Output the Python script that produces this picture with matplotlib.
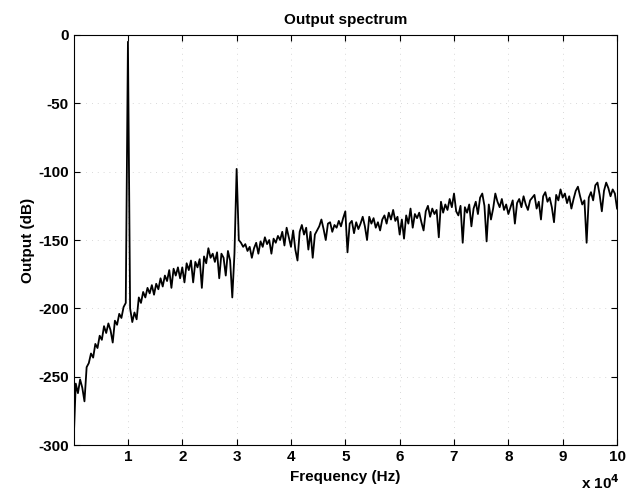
import numpy as np
import matplotlib
matplotlib.use("Agg")
import matplotlib.pyplot as plt

plt.rcParams['font.family'] = ['Liberation Sans', 'DejaVu Sans']
plt.rcParams['axes.unicode_minus'] = False

# output spectrum in dB, one row per 1e4 Hz (step 400 Hz), last value at 1e5 Hz
row0 = [-298, -255, -262, -252, -258, -268, -243, -240, -233, -236, -226, -229, -220,
        -223, -213, -218, -211, -216, -225, -209, -212, -204, -207, -199, -196]
row1 = [-5, -200, -210, -203, -208, -192, -196, -188, -192, -185, -189, -183, -190,
        -182, -186, -178, -184, -176, -180, -172, -185, -171, -176, -170, -178]
row2 = [-170, -181, -167, -172, -165, -181, -166, -170, -164, -185, -162, -167, -156,
        -163, -160, -166, -159, -178, -160, -163, -176, -158, -165, -192, -160]
row3 = [-98, -150, -152, -155, -153, -158, -155, -163, -156, -152, -160, -151, -155,
        -148, -153, -150, -160, -149, -152, -147, -150, -144, -154, -141, -148]
row4 = [-155, -143, -157, -165, -144, -139, -146, -141, -157, -144, -163, -146, -143,
        -140, -135, -142, -150, -138, -137, -144, -139, -141, -136, -140, -134]
row5 = [-129, -159, -138, -136, -145, -137, -142, -138, -133, -140, -150, -133, -138,
        -134, -141, -137, -143, -135, -132, -138, -130, -135, -128, -136, -133]
row6 = [-146, -135, -149, -132, -138, -127, -141, -131, -134, -130, -137, -143, -129,
        -125, -133, -127, -131, -128, -148, -122, -130, -124, -128, -120, -126]
row7 = [-116, -129, -132, -125, -152, -126, -130, -124, -140, -127, -122, -131, -119,
        -116, -125, -151, -124, -135, -127, -116, -122, -126, -120, -128, -124]
row8 = [-131, -126, -121, -138, -123, -120, -126, -118, -124, -128, -121, -119, -117,
        -127, -122, -135, -118, -115, -122, -119, -126, -137, -117, -121, -113]
row9 = [-119, -116, -123, -118, -127, -120, -114, -111, -118, -124, -121, -152, -119,
        -115, -121, -110, -108, -117, -129, -114, -108, -112, -118, -113, -116, -127]

output_db = np.array(row0 + row1 + row2 + row3 + row4 + row5 + row6 + row7 + row8 + row9)
freq = np.linspace(0, 1e5, len(output_db))

xticks = [1e4 * k for k in range(1, 11)]
xticklabels = [str(k) for k in range(1, 11)]
yticks = [0, -50, -100, -150, -200, -250, -300]

fig = plt.figure(figsize=(6.29, 4.99), dpi=100)
ax = fig.add_axes([0.117, 0.108, 0.864, 0.822])
ax.plot(freq, output_db, color='k', linewidth=1.3)

ax.set_xlim(0, 1e5)
ax.set_ylim(-300, 0)
ax.set_xticks(xticks)
ax.set_xticklabels(xticklabels)
ax.set_yticks(yticks)
ax.tick_params(direction='in', top=True, right=True, labelsize=11, length=4)
for lab in ax.get_xticklabels() + ax.get_yticklabels():
    lab.set_fontweight('bold')
ax.grid(True, linestyle=(0, (1, 6)), color='0.8', linewidth=0.6)

ax.set_title('Output spectrum', fontsize=11, fontweight='bold', pad=8)
ax.set_xlabel('Frequency (Hz)', fontsize=11, fontweight='bold', labelpad=4)
ax.set_ylabel('Output (dB)', fontsize=11, fontweight='bold', labelpad=2)
fig.text(0.985, 0.015, r'x 10$^{\mathbf{4}}$', ha='right', va='bottom',
         fontsize=11, fontweight='bold')

fig.savefig('out.png', dpi=100)
